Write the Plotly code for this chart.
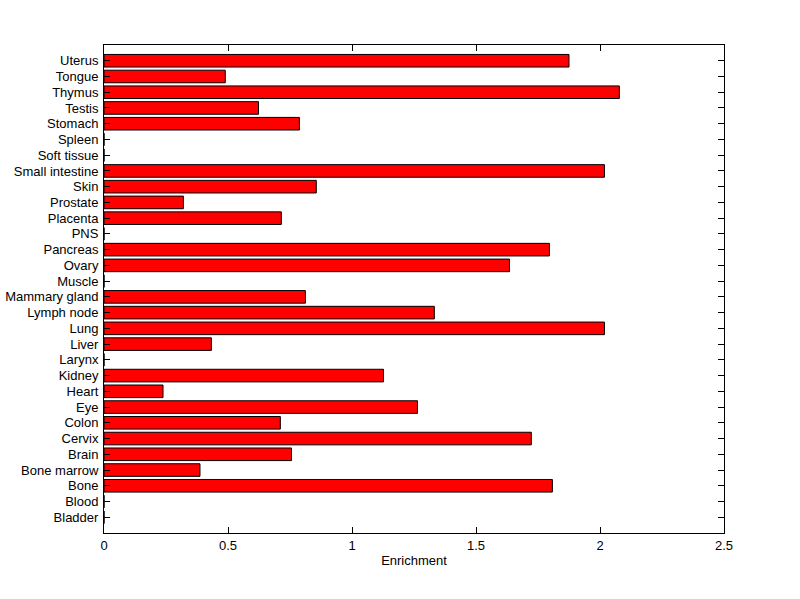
import plotly.graph_objects as go

tissues = ["Bladder", "Blood", "Bone", "Bone marrow", "Brain", "Cervix", "Colon", "Eye",
           "Heart", "Kidney", "Larynx", "Liver", "Lung", "Lymph node", "Mammary gland",
           "Muscle", "Ovary", "Pancreas", "PNS", "Placenta", "Prostate", "Skin",
           "Small intestine", "Soft tissue", "Spleen", "Stomach", "Testis", "Thymus",
           "Tongue", "Uterus"]
enrichment = [0, 0, 1.808, 0.387, 0.756, 1.723, 0.711, 1.264,
              0.238, 1.127, 0, 0.433, 2.018, 1.332, 0.812,
              0, 1.635, 1.796, 0, 0.715, 0.320, 0.856,
              2.018, 0, 0, 0.788, 0.623, 2.078,
              0.489, 1.875]
x_ticks = [0, 0.5, 1, 1.5, 2, 2.5]
x_tick_labels = ["0", "0.5", "1", "1.5", "2", "2.5"]

fig = go.Figure(go.Bar(
    x=enrichment, y=tissues, orientation="h", width=0.8,
    marker=dict(color="#ff0000", line=dict(color="black", width=1)),
))

font = dict(family="Liberation Sans, Arial, sans-serif", size=13, color="black")
fig.update_layout(
    width=800, height=599,
    margin=dict(l=104, r=76, t=45, b=66),
    paper_bgcolor="white", plot_bgcolor="white",
    font=font, showlegend=False,
    xaxis=dict(range=[0, 2.5], tickmode="array", tickvals=x_ticks, ticktext=x_tick_labels,
               ticks="inside", ticklen=6, tickcolor="black", showline=True,
               linecolor="black", linewidth=1, mirror="ticks", showgrid=False,
               zeroline=False, automargin=False, tickfont=font,
               title=dict(text="Enrichment", standoff=4, font=font)),
    yaxis=dict(type="category", categoryorder="array", categoryarray=tissues,
               tickmode="array", tickvals=tissues, ticktext=tissues,
               range=[-1, 30], ticks="inside", ticklen=6, tickcolor="black",
               showline=True, linecolor="black", linewidth=1, mirror="ticks",
               showgrid=False, zeroline=False, automargin=False, tickfont=font,
               ticklabelstandoff=2),
)

fig.write_html("out.html", config={"displayModeBar": False},
               post_script="document.body.style.margin='0';")
